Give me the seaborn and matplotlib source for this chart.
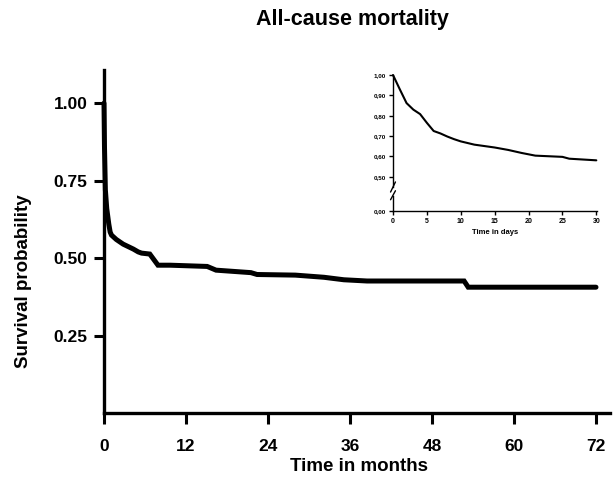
import matplotlib
matplotlib.use("Agg")
import matplotlib.pyplot as plt
import seaborn as sns
import pandas as pd

# ---- data ----
months = [0, 0.07, 0.2, 0.4, 0.7, 0.9, 1.1, 1.8, 2.8, 4.3, 5.0, 5.5, 6.7, 7.9, 9.7, 15.1, 16.4, 21.5, 22.4, 28.0, 32.2, 35.1, 38.5, 52.7, 53.3, 72.0]
survival = [1.00, 0.86, 0.72, 0.66, 0.61, 0.584, 0.574, 0.560, 0.545, 0.529, 0.520, 0.516, 0.513, 0.477, 0.477, 0.473, 0.461, 0.453, 0.447, 0.445, 0.438, 0.430, 0.426, 0.426, 0.406, 0.406]

days = [0, 1, 2, 3, 4, 5, 6, 7, 8, 9, 10, 12, 15, 17, 19, 21, 23, 25, 26, 28, 30]
survival_days = [1.00, 0.93, 0.862, 0.83, 0.808, 0.765, 0.725, 0.713, 0.698, 0.685, 0.674, 0.658, 0.644, 0.632, 0.617, 0.604, 0.601, 0.598, 0.589, 0.585, 0.581]

x_ticks = [0, 12, 24, 36, 48, 60, 72]
y_ticks = [0.25, 0.50, 0.75, 1.00]
y_tick_labels = ["0.25", "0.50", "0.75", "1.00"]
inset_x_ticks = [0, 5, 10, 15, 20, 25, 30]
inset_y_ticks = [0.50, 0.60, 0.70, 0.80, 0.90, 1.00]
inset_y_labels = ["0,50", "0,60", "0,70", "0,80", "0,90", "1,00"]

sns.set_style("ticks")
plt.rcParams["font.family"] = ["Liberation Sans", "DejaVu Sans"]
plt.rcParams["font.weight"] = "bold"
plt.rcParams["text.color"] = "black"
plt.rcParams["axes.labelcolor"] = "black"
plt.rcParams["xtick.color"] = "black"
plt.rcParams["ytick.color"] = "black"

fig = plt.figure(figsize=(6.14, 5.03), dpi=100)

# ---- main axes ----
ax = fig.add_axes([104 / 614, 90 / 503, 506 / 614, 343 / 503])
df = pd.DataFrame({"Time": months, "Survival": survival})
sns.lineplot(data=df, x="Time", y="Survival", ax=ax, color="black", linewidth=3.6,
             solid_joinstyle="miter", clip_on=False)
ax.set_xlim(0, 74.05)
ax.set_ylim(0, 1.107)
ax.set_xticks(x_ticks)
ax.set_xticklabels([str(t) for t in x_ticks], fontsize=12.5, fontweight="bold", color="black")
ax.set_yticks(y_ticks)
ax.set_yticklabels(y_tick_labels, fontsize=12.5, fontweight="bold", color="black")
for s in ["top", "right"]:
    ax.spines[s].set_visible(False)
for s in ["left", "bottom"]:
    ax.spines[s].set_linewidth(2.4)
    ax.spines[s].set_color("black")
ax.tick_params(axis="x", length=8, width=2.2, pad=11, colors="black")
ax.tick_params(axis="y", length=7, width=2.2, pad=5, colors="black")
ax.set_xlabel("Time in months", fontsize=13.5, fontweight="bold", color="black")
ax.set_ylabel("Survival probability", fontsize=13.5, fontweight="bold", color="black")
ax.xaxis.set_label_coords(0.504, -0.157)
ax.xaxis.label.set_va("center")
ax.yaxis.set_label_coords(-0.160, 0.385)
ax.yaxis.label.set_va("center")

fig.text(352 / 614, 1 - 20 / 503, "All-cause mortality", ha="center", va="center",
         fontsize=15.5, fontweight="bold", color="black")

# ---- inset ----
ileft = 393 / 614
iwidth = (597 - 393) / 614
axt = fig.add_axes([ileft, (503 - 187) / 503, iwidth, (187 - 75) / 503])
axb = fig.add_axes([ileft, (503 - 211) / 503, iwidth, (211 - 196) / 503])

dfi = pd.DataFrame({"Day": days, "Survival": survival_days})
sns.lineplot(data=dfi, x="Day", y="Survival", ax=axt, color="black", linewidth=1.5, clip_on=False)
axt.set_xlim(0, 30.1)
axt.set_ylim(0.45, 1.0)
axt.set_yticks(inset_y_ticks)
axt.set_yticklabels(inset_y_labels, fontsize=4.5, fontweight="bold", color="black")
axt.set_xticks([])
axt.set_xlabel("")
axt.set_ylabel("")
for s in ["top", "right", "bottom"]:
    axt.spines[s].set_visible(False)
axt.spines["left"].set_linewidth(1.0)
axt.spines["left"].set_color("black")
axt.tick_params(axis="y", length=3, width=1.0, pad=2, colors="black")

axb.set_xlim(0, 30.1)
axb.set_ylim(0, 0.0735)
axb.set_yticks([0.0])
axb.set_yticklabels(["0,00"], fontsize=4.5, fontweight="bold", color="black")
axb.set_xticks(inset_x_ticks)
axb.set_xticklabels([str(t) for t in inset_x_ticks], fontsize=5, fontweight="bold", color="black")
for s in ["top", "right"]:
    axb.spines[s].set_visible(False)
for s in ["left", "bottom"]:
    axb.spines[s].set_linewidth(1.0)
    axb.spines[s].set_color("black")
axb.tick_params(axis="both", length=3, width=1.0, pad=2, colors="black")
axb.set_xlabel("Time in days", fontsize=5.5, fontweight="bold", labelpad=3, color="black")

# break marks
axt.plot([-0.012, 0.012], [-0.045, 0.045], transform=axt.transAxes, color="black",
         linewidth=1.0, clip_on=False)
axb.plot([-0.012, 0.012], [0.75, 1.35], transform=axb.transAxes, color="black",
         linewidth=1.0, clip_on=False)

fig.savefig("out.png", dpi=100)
